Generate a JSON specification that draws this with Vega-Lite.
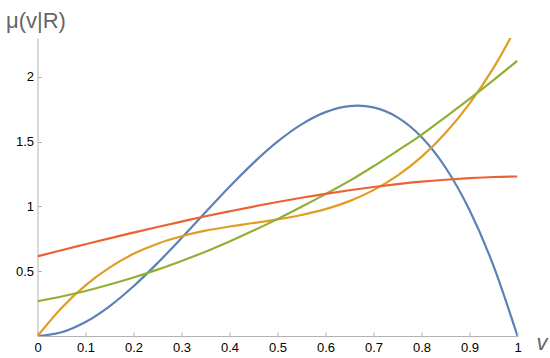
{
  "$schema": "https://vega.github.io/schema/vega-lite/v6.json",
  "width": 480,
  "height": 298,
  "autosize": {"type": "none"},
  "padding": {"left": 37.5, "top": 38, "right": 32.5, "bottom": 22},
  "background": "white",
  "config": {"view": {"stroke": null}},
  "data": {"values": [
    {"v":0,"mu":0,"s":"A"},{"v":0.05,"mu":0.0285,"s":"A"},{"v":0.1,"mu":0.108,"s":"A"},{"v":0.15,"mu":0.2295,"s":"A"},{"v":0.2,"mu":0.384,"s":"A"},{"v":0.25,"mu":0.5625,"s":"A"},{"v":0.3,"mu":0.756,"s":"A"},{"v":0.35,"mu":0.9555,"s":"A"},{"v":0.4,"mu":1.152,"s":"A"},{"v":0.45,"mu":1.3365,"s":"A"},{"v":0.5,"mu":1.5,"s":"A"},{"v":0.55,"mu":1.6335,"s":"A"},{"v":0.6,"mu":1.728,"s":"A"},{"v":0.65,"mu":1.7745,"s":"A"},{"v":0.667,"mu":1.778,"s":"A"},{"v":0.7,"mu":1.764,"s":"A"},{"v":0.75,"mu":1.6875,"s":"A"},{"v":0.8,"mu":1.536,"s":"A"},{"v":0.85,"mu":1.3005,"s":"A"},{"v":0.9,"mu":0.972,"s":"A"},{"v":0.95,"mu":0.5415,"s":"A"},{"v":1,"mu":0,"s":"A"},
    {"v":0,"mu":0,"s":"B"},{"v":0.05,"mu":0.217,"s":"B"},{"v":0.1,"mu":0.391,"s":"B"},{"v":0.15,"mu":0.528,"s":"B"},{"v":0.2,"mu":0.634,"s":"B"},{"v":0.25,"mu":0.7125,"s":"B"},{"v":0.3,"mu":0.77,"s":"B"},{"v":0.35,"mu":0.813,"s":"B"},{"v":0.4,"mu":0.845,"s":"B"},{"v":0.45,"mu":0.872,"s":"B"},{"v":0.5,"mu":0.9,"s":"B"},{"v":0.55,"mu":0.934,"s":"B"},{"v":0.6,"mu":0.979,"s":"B"},{"v":0.65,"mu":1.041,"s":"B"},{"v":0.7,"mu":1.126,"s":"B"},{"v":0.75,"mu":1.2375,"s":"B"},{"v":0.8,"mu":1.382,"s":"B"},{"v":0.85,"mu":1.566,"s":"B"},{"v":0.9,"mu":1.793,"s":"B"},{"v":0.95,"mu":2.069,"s":"B"},{"v":1,"mu":2.4,"s":"B"},
    {"v":0,"mu":0.268,"s":"C"},{"v":0.05,"mu":0.305,"s":"C"},{"v":0.1,"mu":0.347,"s":"C"},{"v":0.15,"mu":0.397,"s":"C"},{"v":0.2,"mu":0.452,"s":"C"},{"v":0.25,"mu":0.512,"s":"C"},{"v":0.3,"mu":0.579,"s":"C"},{"v":0.35,"mu":0.651,"s":"C"},{"v":0.4,"mu":0.73,"s":"C"},{"v":0.45,"mu":0.814,"s":"C"},{"v":0.5,"mu":0.902,"s":"C"},{"v":0.55,"mu":0.997,"s":"C"},{"v":0.6,"mu":1.095,"s":"C"},{"v":0.65,"mu":1.197,"s":"C"},{"v":0.7,"mu":1.31,"s":"C"},{"v":0.75,"mu":1.43,"s":"C"},{"v":0.8,"mu":1.553,"s":"C"},{"v":0.85,"mu":1.69,"s":"C"},{"v":0.9,"mu":1.83,"s":"C"},{"v":0.95,"mu":1.975,"s":"C"},{"v":1,"mu":2.125,"s":"C"},
    {"v":0,"mu":0.615,"s":"D"},{"v":0.05,"mu":0.662,"s":"D"},{"v":0.1,"mu":0.708,"s":"D"},{"v":0.15,"mu":0.754,"s":"D"},{"v":0.2,"mu":0.798,"s":"D"},{"v":0.25,"mu":0.841,"s":"D"},{"v":0.3,"mu":0.883,"s":"D"},{"v":0.35,"mu":0.924,"s":"D"},{"v":0.4,"mu":0.962,"s":"D"},{"v":0.45,"mu":0.999,"s":"D"},{"v":0.5,"mu":1.034,"s":"D"},{"v":0.55,"mu":1.067,"s":"D"},{"v":0.6,"mu":1.097,"s":"D"},{"v":0.65,"mu":1.125,"s":"D"},{"v":0.7,"mu":1.15,"s":"D"},{"v":0.75,"mu":1.172,"s":"D"},{"v":0.8,"mu":1.191,"s":"D"},{"v":0.85,"mu":1.206,"s":"D"},{"v":0.9,"mu":1.218,"s":"D"},{"v":0.95,"mu":1.227,"s":"D"},{"v":1,"mu":1.231,"s":"D"}
  ]},
  "mark": {"type": "line", "interpolate": "monotone", "strokeWidth": 2.2, "clip": true},
  "encoding": {
    "x": {
      "field": "v", "type": "quantitative",
      "scale": {"domain": [0, 1], "nice": false, "zero": false},
      "axis": {
        "values": [0,0.1,0.2,0.3,0.4,0.5,0.6,0.7,0.8,0.9,1],
        "labelExpr": "datum.value == 0 ? '0' : datum.value == 1 ? '1' : format(datum.value, '.1f')",
        "grid": false,
        "domainColor": "#b3b3b3", "domainWidth": 1,
        "tickColor": "#b3b3b3", "tickSize": -4,
        "labelFont": "Liberation Sans", "labelFontSize": 13, "labelColor": "#000000",
        "labelPadding": 9, "labelFlush": false, "labelOverlap": false,
        "title": "v", "titleFont": "Liberation Sans", "titleFontSize": 22, "titleFontStyle": "italic", "titleFontWeight": "normal",
        "titleColor": "#666666", "titleX": 504, "titleY": 6, "titleAlign": "center", "titleBaseline": "middle", "titleAngle": 0
      }
    },
    "y": {
      "field": "mu", "type": "quantitative",
      "scale": {"domain": [0, 2.3], "nice": false, "zero": false},
      "axis": {
        "values": [0.5, 1, 1.5, 2],
        "labelExpr": "datum.value == 1 ? '1' : datum.value == 2 ? '2' : format(datum.value, '.1f')",
        "grid": false,
        "domainColor": "#b3b3b3", "domainWidth": 1,
        "tickColor": "#b3b3b3", "tickSize": -4,
        "labelFont": "Liberation Sans", "labelFontSize": 13, "labelColor": "#000000",
        "labelPadding": 8, "labelOverlap": false,
        "title": "μ(v|R)", "titleFont": "Liberation Sans", "titleFontSize": 22, "titleFontWeight": "normal",
        "titleColor": "#666666", "titleAngle": 0, "titleX": -32, "titleY": -11, "titleAlign": "left", "titleBaseline": "alphabetic"
      }
    },
    "color": {
      "field": "s", "type": "nominal",
      "scale": {"domain": ["A","B","C","D"], "range": ["#5e81b5","#e19c24","#8fb032","#eb6235"]},
      "legend": null
    }
  }
}
